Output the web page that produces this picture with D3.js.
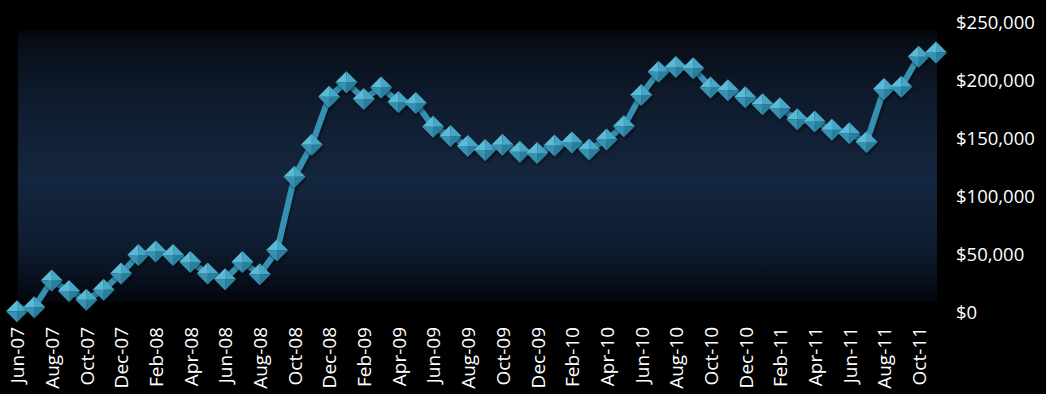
<!DOCTYPE html>
<html>
<head>
<meta charset="utf-8">
<script src="https://cdn.jsdelivr.net/npm/d3@7"></script>
<style>
  html, body { margin: 0; padding: 0; background: #000; }
  svg { display: block; }
  text { font-family: "Open Sans", "Liberation Sans", sans-serif; fill: #ffffff; }
</style>
</head>
<body>
<svg id="chart" width="1046" height="394"></svg>
<script>
// ---- data ----
const months = [
  "Jun-07","Jul-07","Aug-07","Sep-07","Oct-07","Nov-07","Dec-07",
  "Jan-08","Feb-08","Mar-08","Apr-08","May-08","Jun-08","Jul-08","Aug-08","Sep-08","Oct-08","Nov-08","Dec-08",
  "Jan-09","Feb-09","Mar-09","Apr-09","May-09","Jun-09","Jul-09","Aug-09","Sep-09","Oct-09","Nov-09","Dec-09",
  "Jan-10","Feb-10","Mar-10","Apr-10","May-10","Jun-10","Jul-10","Aug-10","Sep-10","Oct-10","Nov-10","Dec-10",
  "Jan-11","Feb-11","Mar-11","Apr-11","May-11","Jun-11","Jul-11","Aug-11","Sep-11","Oct-11","Nov-11"
];
const values = [
  1500, 5000, 28000, 19000, 11500, 20000, 34000,
  50000, 53000, 50000, 44000, 34000, 29000, 44000, 33500, 54000, 117500, 145000, 186500,
  199000, 184500, 194500, 182000, 181000, 160500, 152500, 144000, 140500, 145000, 139000, 138000,
  144500, 147000, 141000, 149500, 161000, 188000, 208000, 212000, 211000, 194500, 192000, 186000,
  180000, 176500, 167000, 165000, 158000, 155000, 147500, 193000, 195000, 221000, 224500
];
const xTickLabels = months.filter((d, i) => i % 2 === 0);
const yTicks = [0, 50000, 100000, 150000, 200000, 250000];

// ---- layout ----
const svg = d3.select("#chart");
const W = 1046, H = 394;
svg.append("rect").attr("width", W).attr("height", H).attr("fill", "#000");

const x = d3.scalePoint().domain(months).range([17, 936]);
const y = d3.scaleLinear().domain([0, 250000]).range([313, 23]);

const defs = svg.append("defs");
const grad = defs.append("linearGradient").attr("id", "bg").attr("x1", 0).attr("y1", 0).attr("x2", 0).attr("y2", 1);
[
  [0, "#020409"], [0.03, "#070d15"], [0.25, "#0e1b2d"], [0.55, "#14263f"],
  [0.8, "#0e1c30"], [0.95, "#060c16"], [1, "#03060b"]
].forEach(([o, c]) => grad.append("stop").attr("offset", o).attr("stop-color", c));

const shadow = defs.append("filter").attr("id", "sh").attr("x", "-50%").attr("y", "-50%").attr("width", "200%").attr("height", "200%");
shadow.append("feDropShadow").attr("dx", 1).attr("dy", 2).attr("stdDeviation", 1.5)
  .attr("flood-color", "#000").attr("flood-opacity", 0.55);

// plot background band
svg.append("rect")
  .attr("x", 18).attr("y", 30)
  .attr("width", 937 - 18).attr("height", 302 - 30)
  .attr("fill", "url(#bg)");

// y axis labels (right side)
const yAxis = d3.axisRight(y).tickValues(yTicks)
  .tickFormat(d => "$" + d3.format(",")(d)).tickSize(0).tickPadding(0);
const gy = svg.append("g").attr("transform", "translate(956,0)").call(yAxis);
gy.select(".domain").remove();
gy.selectAll("text").attr("font-size", 18.5).attr("fill", "#fff")
  .style("font-family", '"Open Sans", "Liberation Sans", sans-serif');

// x axis labels (rotated)
const xAxis = d3.axisBottom(x).tickValues(xTickLabels).tickSize(0).tickPadding(0);
const gx = svg.append("g").attr("transform", "translate(0,327)").call(xAxis);
gx.select(".domain").remove();
gx.selectAll("text")
  .attr("font-size", 19).attr("fill", "#fff")
  .style("font-family", '"Open Sans", "Liberation Sans", sans-serif')
  .attr("text-anchor", "end")
  .attr("transform", "rotate(-90)")
  .attr("x", 0).attr("y", 0).attr("dy", "0.36em");

// line
const line = d3.line().x((d, i) => x(months[i])).y(d => y(d));
svg.append("path").datum(values)
  .attr("d", line)
  .attr("fill", "none")
  .attr("stroke", "#3691b2")
  .attr("stroke-width", 6)
  .attr("stroke-linejoin", "round")
  .attr("filter", "url(#sh)");

// diamond markers (faceted)
const r = 11;
const faces = [
  { pts: [[0,0],[-r,0],[0,-r]], c: "#5bbad6" },
  { pts: [[0,0],[0,-r],[r,0]], c: "#44a6c5" },
  { pts: [[0,0],[r,0],[0,r]], c: "#2a7f9e" },
  { pts: [[0,0],[0,r],[-r,0]], c: "#3791b1" }
];
const mk = svg.append("g").selectAll("g.m").data(values).join("g")
  .attr("class", "m")
  .attr("transform", (d, i) => `translate(${x(months[i])},${y(d)})`)
  .attr("filter", "url(#sh)");
faces.forEach(f => {
  mk.append("path").attr("d", "M" + f.pts.map(p => p.join(",")).join("L") + "Z").attr("fill", f.c);
});
</script>
</body>
</html>
